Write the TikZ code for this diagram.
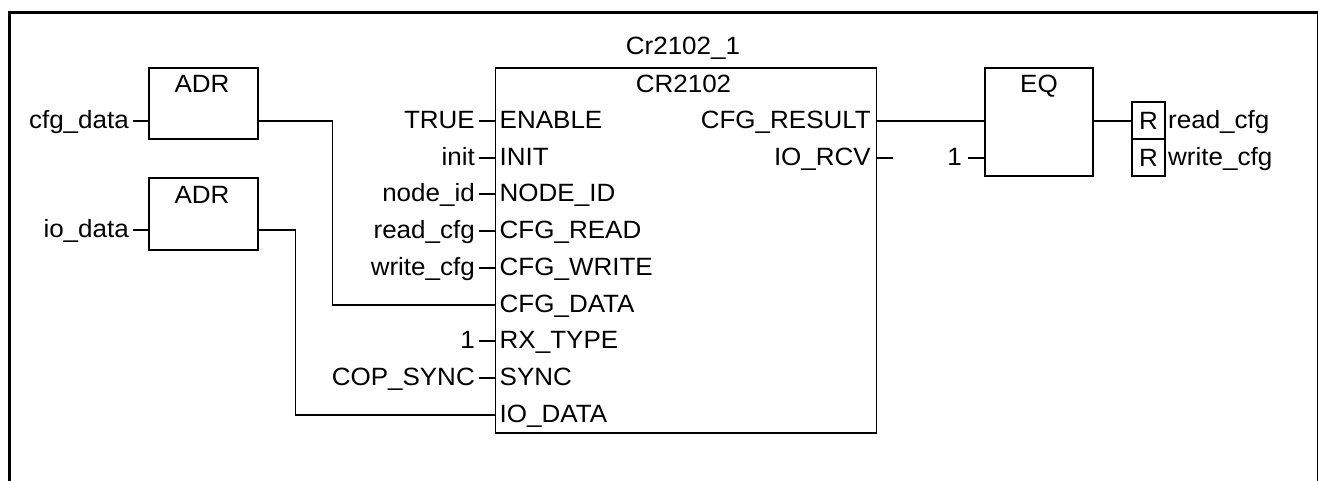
\documentclass[tikz,border=0pt]{standalone}
\usepackage{fontspec}
\setmainfont[FakeStretch=1.04]{Liberation Sans}
\usepackage{tikz}
\usetikzlibrary{positioning,calc}

\begin{document}
\begin{tikzpicture}[
    x=1pt, y=-1pt,
    frame/.style={draw=black, line width=3pt, minimum width=1309pt, minimum height=470pt, anchor=north west},
    block/.style={draw=black, line width=1.8pt, anchor=north west},
    rbox/.style={draw=black, line width=1.8pt, anchor=north west, minimum width=33pt, minimum height=37pt, inner sep=0pt, font=\fontsize{25}{25}\selectfont},
    lbl/.style={inner sep=0pt, text height=18pt, text depth=4pt, font=\fontsize{25}{25}\selectfont},
    inpin/.style={lbl, anchor=east},
    outpin/.style={lbl, anchor=east},
    port/.style={lbl, anchor=west},
    wire/.style={line width=1.8pt, black}
]
\useasboundingbox (0,0) rectangle (1318,480);

% Rahmen
\node[frame] (border) at (8,11) {};

% Bausteine
\node[block, minimum width=109pt, minimum height=71pt] (adrA) at (148,67) {};
\node[block, minimum width=109pt, minimum height=72pt] (adrB) at (148,177) {};
\node[block, minimum width=381pt, minimum height=365pt] (cr) at (494.5,67) {};
\node[block, minimum width=108pt, minimum height=108pt] (eq) at (984,67) {};
\node[rbox] (rA) at (1131,101) {R};
\node[rbox] (rB) at (1131,138) {R};

% Titel
\node[lbl] (inst) at (683,47) {Cr2102\_1};
\node[lbl] (crname) at (683.5,85) {CR2102};
\node[lbl] (adrAname) at (202,85) {ADR};
\node[lbl] (adrBname) at (202,196) {ADR};
\node[lbl] (eqname) at (1039,85) {EQ};

% Eingaenge
\node[inpin] (cfgdata) at (129,121) {cfg\_data};
\node[inpin] (iodata) at (129,230) {io\_data};
\node[inpin] (vtrue) at (475,121) {TRUE};
\node[inpin] (init) at (475,158) {init};
\node[inpin] (nodeid) at (475,194) {node\_id};
\node[inpin] (readcfg) at (475,231) {read\_cfg};
\node[inpin] (writecfg) at (475,268) {write\_cfg};
\node[inpin] (vone) at (475,341) {1};
\node[inpin] (copsync) at (475,378) {COP\_SYNC};
\node[inpin] (eqone) at (962,158) {1};

% Anschluesse
\node[port] (pEnable) at (499.5,121) {ENABLE};
\node[port] (pInit) at (499.5,158) {INIT};
\node[port] (pNodeId) at (499.5,194) {NODE\_ID};
\node[port] (pCfgRead) at (499.5,231) {CFG\_READ};
\node[port] (pCfgWrite) at (499.5,268) {CFG\_WRITE};
\node[port] (pCfgData) at (499.5,305) {CFG\_DATA};
\node[port] (pRxType) at (499.5,341) {RX\_TYPE};
\node[port] (pSync) at (499.5,378) {SYNC};
\node[port] (pIoData) at (499.5,415) {IO\_DATA};
\node[outpin] (pResult) at (871,121) {CFG\_RESULT};
\node[outpin] (pRcv) at (871,158) {IO\_RCV};

% Ausgaenge
\node[port] (outRead) at (1168,121) {read\_cfg};
\node[port] (outWrite) at (1168,158) {write\_cfg};
\coordinate (rcvEnd) at (893,158);

% Stummel
\draw[wire] (cfgdata.east) ++(4,0) -- (cfgdata.east -| adrA.west);
\draw[wire] (iodata.east) ++(4,0) -- (iodata.east -| adrB.west);
\foreach \pin in {vtrue,init,nodeid,readcfg,writecfg,vone,copsync}
    \draw[wire] (\pin.east) ++(4,0) -- (\pin.east -| cr.west);
\draw[wire] (eqone.east) ++(6,0) -- (eqone.east -| eq.west);
\draw[wire] (pRcv.east -| cr.east) -- (rcvEnd);

% Leitungen
\draw[wire] (cfgdata.east -| adrA.east) -- (332.5,121) |- (pCfgData.west -| cr.west);
\draw[wire] (iodata.east -| adrB.east) -- (295.5,230) |- (pIoData.west -| cr.west);
\draw[wire] (pResult.east -| cr.east) -- (pResult.east -| eq.west);
\draw[wire] (pResult.east -| eq.east) -- (pResult.east -| rA.west);

\end{tikzpicture}
\end{document}
